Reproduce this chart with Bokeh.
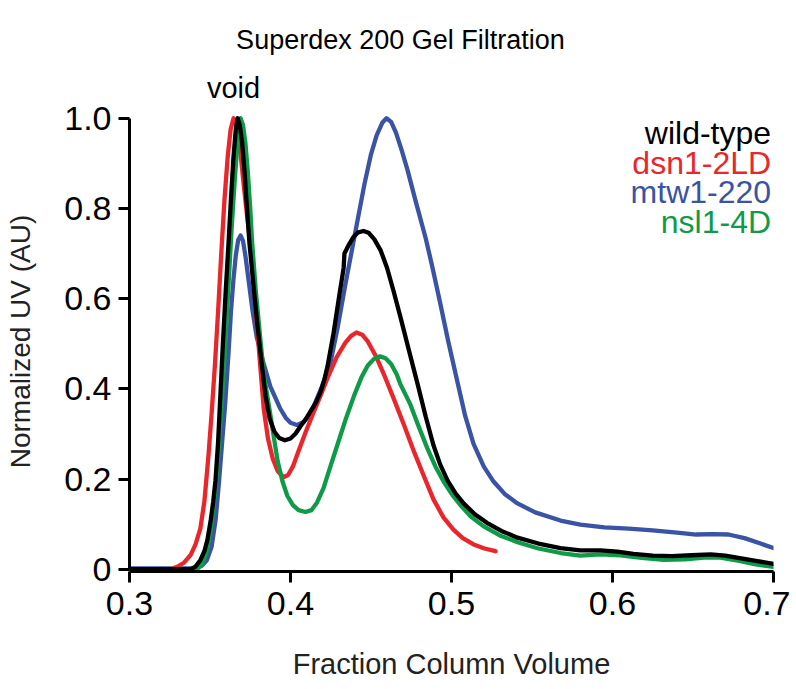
import math
from bokeh.plotting import figure
from bokeh.models import Range1d, FixedTicker, Label
from bokeh.layouts import row
from bokeh.embed import file_html
from bokeh.resources import INLINE

# ---- data ----
wt_x = [0.300, 0.320, 0.338, 0.341, 0.344, 0.3465, 0.3484, 0.3505, 0.352, 0.3534, 0.355, 0.3565,
        0.358, 0.3598, 0.3615, 0.363, 0.3645, 0.366, 0.3672, 0.3685, 0.370, 0.3715, 0.373, 0.3745,
        0.377, 0.3795, 0.382, 0.3845, 0.387, 0.390, 0.393, 0.3965, 0.400, 0.4032, 0.4062, 0.4095,
        0.4124, 0.4155, 0.4186, 0.421, 0.423, 0.4267, 0.430, 0.433, 0.4335, 0.436, 0.439, 0.442,
        0.4453, 0.4485, 0.452, 0.456, 0.460, 0.464, 0.4683, 0.4735, 0.479, 0.484, 0.4888, 0.493,
        0.4975, 0.5025, 0.5075, 0.5145, 0.522, 0.531, 0.541, 0.554, 0.5677, 0.580, 0.5925, 0.603,
        0.613, 0.625, 0.637, 0.649, 0.661, 0.670, 0.680, 0.690, 0.700]
wt_y = [0.000, 0.000, 0.000, 0.006, 0.020, 0.040, 0.065, 0.110, 0.150, 0.197, 0.280, 0.390,
        0.500, 0.620, 0.723, 0.820, 0.910, 0.975, 1.000, 0.985, 0.945, 0.880, 0.800, 0.723,
        0.630, 0.540, 0.460, 0.385, 0.335, 0.305, 0.291, 0.286, 0.290, 0.301, 0.317, 0.333,
        0.350, 0.368, 0.392, 0.420, 0.450, 0.523, 0.600, 0.668, 0.700, 0.718, 0.736, 0.747,
        0.750, 0.746, 0.732, 0.707, 0.668, 0.617, 0.559, 0.486, 0.410, 0.338, 0.275, 0.232,
        0.197, 0.168, 0.146, 0.122, 0.103, 0.085, 0.070, 0.057, 0.047, 0.042, 0.042, 0.039,
        0.034, 0.030, 0.029, 0.031, 0.033, 0.030, 0.024, 0.018, 0.012]

dsn_x = [0.3255, 0.330, 0.334, 0.338, 0.341, 0.344, 0.3465, 0.349, 0.351, 0.353, 0.355, 0.357,
         0.359, 0.361, 0.3628, 0.3646, 0.366, 0.3675, 0.369, 0.371, 0.373, 0.375, 0.377, 0.379,
         0.381, 0.3834, 0.386, 0.389, 0.392, 0.3956, 0.3985, 0.4015, 0.405, 0.4095, 0.414, 0.4182,
         0.4235, 0.4286, 0.434, 0.4375, 0.441, 0.4445, 0.448, 0.4534, 0.4585, 0.4638, 0.4705, 0.477,
         0.483, 0.4888, 0.495, 0.5012, 0.507, 0.5137, 0.5205, 0.5273]
dsn_y = [0.000, 0.006, 0.015, 0.032, 0.055, 0.090, 0.150, 0.250, 0.345, 0.450, 0.570, 0.700,
         0.820, 0.915, 0.975, 1.000, 0.992, 0.965, 0.920, 0.850, 0.785, 0.725, 0.640, 0.550,
         0.460, 0.355, 0.290, 0.245, 0.218, 0.204, 0.209, 0.228, 0.262, 0.305, 0.345, 0.381,
         0.428, 0.470, 0.502, 0.517, 0.525, 0.520, 0.505, 0.470, 0.428, 0.381, 0.320, 0.258,
         0.205, 0.155, 0.115, 0.088, 0.069, 0.055, 0.046, 0.040]

mtw_x = [0.300, 0.320, 0.340, 0.345, 0.348, 0.351, 0.3535, 0.3555, 0.3575, 0.3595, 0.3615, 0.363,
         0.3645, 0.366, 0.3675, 0.369, 0.3705, 0.372, 0.374, 0.3764, 0.379, 0.383, 0.3875, 0.3935,
         0.397, 0.400, 0.404, 0.408, 0.4115, 0.4143, 0.4195, 0.4248, 0.4295, 0.434, 0.438, 0.442,
         0.446, 0.450, 0.4535, 0.457, 0.4596, 0.4625, 0.4655, 0.469, 0.4727, 0.4776, 0.4839, 0.488,
         0.4925, 0.498, 0.5037, 0.5085, 0.5137, 0.520, 0.526, 0.533, 0.541, 0.552, 0.5677, 0.580,
         0.595, 0.610, 0.625, 0.640, 0.652, 0.662, 0.672, 0.682, 0.691, 0.700]
mtw_y = [0.002, 0.002, 0.002, 0.008, 0.020, 0.050, 0.110, 0.190, 0.280, 0.370, 0.480, 0.570,
         0.640, 0.695, 0.730, 0.740, 0.728, 0.695, 0.640, 0.574, 0.515, 0.460, 0.405, 0.357,
         0.336, 0.325, 0.320, 0.326, 0.340, 0.360, 0.405, 0.457, 0.540, 0.630, 0.705, 0.780,
         0.855, 0.920, 0.962, 0.990, 1.000, 0.992, 0.968, 0.930, 0.885, 0.818, 0.735, 0.672,
         0.598, 0.505, 0.415, 0.340, 0.278, 0.228, 0.195, 0.167, 0.146, 0.126, 0.108, 0.099,
         0.093, 0.090, 0.086, 0.081, 0.077, 0.078, 0.077, 0.069, 0.058, 0.047]

nsl_x = [0.300, 0.320, 0.342, 0.345, 0.348, 0.351, 0.3535, 0.3555, 0.3575, 0.3595, 0.3615, 0.3635,
         0.3655, 0.3672, 0.369, 0.3705, 0.372, 0.3735, 0.375, 0.3762, 0.3785, 0.381, 0.3835, 0.3876,
         0.390, 0.392, 0.395, 0.398, 0.4015, 0.405, 0.4093, 0.413, 0.4165, 0.4205, 0.4248, 0.4295,
         0.4345, 0.4395, 0.444, 0.448, 0.452, 0.4556, 0.459, 0.4625, 0.466, 0.4683, 0.4745, 0.479,
         0.485, 0.490, 0.495, 0.5005, 0.5056, 0.512, 0.520, 0.530, 0.541, 0.554, 0.5677, 0.580,
         0.5925, 0.605, 0.618, 0.632, 0.645, 0.657, 0.667, 0.678, 0.689, 0.700]
nsl_y = [0.000, 0.000, 0.000, 0.010, 0.040, 0.100, 0.180, 0.270, 0.380, 0.500, 0.630, 0.760,
         0.870, 0.950, 1.000, 0.985, 0.945, 0.880, 0.800, 0.723, 0.615, 0.520, 0.430, 0.340,
         0.285, 0.240, 0.195, 0.163, 0.142, 0.131, 0.127, 0.131, 0.148, 0.180, 0.228, 0.280,
         0.335, 0.385, 0.425, 0.452, 0.467, 0.472, 0.468, 0.455, 0.432, 0.410, 0.365, 0.322,
         0.268, 0.228, 0.195, 0.165, 0.142, 0.117, 0.095, 0.075, 0.060, 0.046, 0.036, 0.030,
         0.033, 0.031, 0.025, 0.021, 0.022, 0.026, 0.026, 0.019, 0.011, 0.005]

series_names = ["wild-type", "dsn1-2LD", "mtw1-220", "nsl1-4D"]
series_colors = ["#000000", "#e8262b", "#3a53a4", "#0f9a48"]

x_ticks = [0.3, 0.4, 0.5, 0.6, 0.7]
x_tick_labels = ["0.3", "0.4", "0.5", "0.6", "0.7"]
y_ticks = [0, 0.2, 0.4, 0.6, 0.8, 1.0]
y_tick_labels = ["0", "0.2", "0.4", "0.6", "0.8", "1.0"]

FONT = "Liberation Sans"
H = 688
BOTTOM = 117
FRAME_H = H - BOTTOM
STRIP_W = 44
MAIN_W = 746

# ---- left strip holding the rotated y-axis title (same frame height as the main chart) ----
strip = figure(width=STRIP_W, height=H, output_backend="svg", toolbar_location=None,
               x_range=Range1d(0, STRIP_W), y_range=Range1d(0, FRAME_H),
               x_axis_location=None, y_axis_location=None,
               min_border_left=0, min_border_right=0, min_border_top=0, min_border_bottom=BOTTOM)
strip.outline_line_color = None
strip.grid.visible = False
strip.add_layout(Label(x=20, y=FRAME_H - 341, text="Normalized UV (AU)", angle=math.pi / 2,
                       text_font=FONT, text_font_size="28px", text_align="center",
                       text_baseline="middle", text_color="#222222"))

# ---- main chart: frame reaches the top so title and "void" sit inside it ----
p = figure(width=MAIN_W, height=H, output_backend="svg", toolbar_location=None,
           x_range=Range1d(0.3, 0.7), y_range=Range1d(-0.005, 1.2611),
           min_border_left=85, min_border_right=17, min_border_top=0, min_border_bottom=BOTTOM)
p.outline_line_color = None
p.grid.visible = False

for xs, ys, idx in [(mtw_x, mtw_y, 2), (dsn_x, dsn_y, 1), (nsl_x, nsl_y, 3), (wt_x, wt_y, 0)]:
    p.line(xs, ys, line_color=series_colors[idx], line_width=4.3, line_join="round", line_cap="round")

for ax in (p.xaxis[0], p.yaxis[0]):
    ax.axis_line_width = 3
    ax.axis_line_color = "black"
    ax.major_tick_line_width = 3
    ax.major_tick_line_color = "black"
    ax.major_tick_in = 0
    ax.major_tick_out = 11
    ax.minor_tick_line_color = None
    ax.major_label_text_font = FONT
    ax.major_label_text_font_size = "34px"
    ax.major_label_text_color = "black"
    ax.axis_label_text_font = FONT
    ax.axis_label_text_font_style = "normal"
    ax.axis_label_text_color = "#222222"

p.xaxis[0].ticker = FixedTicker(ticks=x_ticks)
p.xaxis[0].major_label_overrides = dict(zip(x_ticks, x_tick_labels))
p.xaxis[0].bounds = (0.3, 0.7)
p.xaxis[0].axis_label = "Fraction Column Volume"
p.xaxis[0].axis_label_text_font_size = "29px"
p.xaxis[0].major_label_standoff = 9
p.xaxis[0].axis_label_standoff = 30

p.yaxis[0].ticker = FixedTicker(ticks=y_ticks)
p.yaxis[0].major_label_overrides = dict(zip(y_ticks, y_tick_labels))
p.yaxis[0].bounds = (0, 1)
p.yaxis[0].major_label_standoff = 7

# title and "void" marker (inside the extended frame)
p.add_layout(Label(x=0.4683, y=1.173, text="Superdex 200 Gel Filtration", text_font=FONT,
                   text_font_size="27px", text_align="center", text_baseline="middle",
                   text_color="black"))
p.add_layout(Label(x=0.3646, y=1.0665, text="void", text_font=FONT, text_font_size="29px",
                   text_align="center", text_baseline="middle", text_color="black"))

legend_y = [0.9667, 0.9002, 0.8359, 0.7694]
for name, col, ly in zip(series_names, series_colors, legend_y):
    p.add_layout(Label(x=0.6985, y=ly, text=name, text_font=FONT, text_font_size="32px",
                       text_align="right", text_baseline="middle", text_color=col))

layout = row(strip, p, spacing=0)
open("out.html", "w").write(file_html(layout, INLINE))
